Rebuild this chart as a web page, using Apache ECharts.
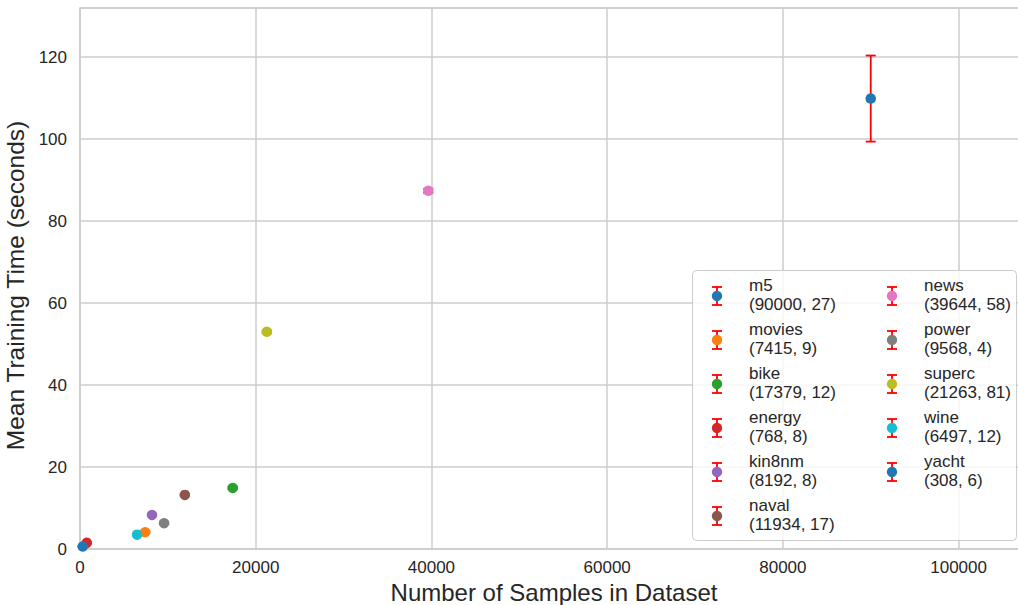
<!DOCTYPE html>
<html><head><meta charset="utf-8">
<script src="https://cdn.jsdelivr.net/npm/echarts@6/dist/echarts.min.js"></script>
<style>html,body{margin:0;padding:0;background:#fff}#c{width:1018px;height:605px;overflow:hidden}</style>
</head><body><div id="c"></div>
<script>
// ---- data ----
const names    = ['m5', 'movies', 'bike', 'energy', 'kin8nm', 'naval', 'news', 'power', 'superc', 'wine', 'yacht'];
const samples  = [90000, 7415, 17379, 768, 8192, 11934, 39644, 9568, 21263, 6497, 308];
const features = [27, 9, 12, 8, 8, 17, 58, 4, 81, 12, 6];
const meanTime = [109.9, 4.1, 14.9, 1.5, 8.3, 13.2, 87.4, 6.3, 53.0, 3.5, 0.6];
const errTime  = [10.5, 0.2, 0.3, 0.2, 0.2, 0.2, 0.5, 0.2, 0.3, 0.2, 0.1];
const xTicks   = [0, 20000, 40000, 60000, 80000, 100000];
const yTicks   = [0, 20, 40, 60, 80, 100, 120];
const colors   = ['#1f77b4', '#ff7f0e', '#2ca02c', '#d62728', '#9467bd', '#8c564b', '#e377c2', '#7f7f7f', '#bcbd22', '#17becf', '#1f77b4'];

const FONT = '"Liberation Sans", Arial, sans-serif';
const TXT = '#262626';
const chart = echarts.init(document.getElementById('c'), null, {renderer: 'svg'});

const errSeries = {
  type: 'custom',
  silent: true,
  z: 1,
  data: samples.map((s, i) => [s, meanTime[i] - errTime[i], meanTime[i] + errTime[i]]),
  renderItem(params, api) {
    const x = api.value(0);
    const pLo = api.coord([x, api.value(1)]);
    const pHi = api.coord([x, api.value(2)]);
    const hw = 5, st = {stroke: '#ff0000', lineWidth: 1.8};
    return {type: 'group', children: [
      {type: 'line', shape: {x1: pLo[0], y1: pLo[1], x2: pHi[0], y2: pHi[1]}, style: st},
      {type: 'line', shape: {x1: pLo[0] - hw, y1: pLo[1], x2: pLo[0] + hw, y2: pLo[1]}, style: st},
      {type: 'line', shape: {x1: pHi[0] - hw, y1: pHi[1], x2: pHi[0] + hw, y2: pHi[1]}, style: st}
    ]};
  }
};

const dotSeries = names.map((n, i) => ({
  name: n,
  type: 'scatter',
  z: 3,
  symbol: 'circle',
  symbolSize: 10.5,
  itemStyle: {color: colors[i], opacity: 1},
  data: [[samples[i], meanTime[i]]]
}));

// legend drawn as graphic from the arrays
const legendEls = [];
legendEls.push({type: 'rect', shape: {x: 692.5, y: 270.5, width: 324, height: 270, r: 4},
  style: {fill: 'rgba(255,255,255,0.8)', stroke: '#cccccc', lineWidth: 1}, z: 10});
names.forEach((n, i) => {
  const col = i < 6 ? 0 : 1, row = i < 6 ? i : i - 6;
  const cx = col === 0 ? 717 : 892;
  const cy = 296 + 44 * row;
  const st = {stroke: '#ff0000', lineWidth: 1.8};
  legendEls.push({type: 'line', z: 11, shape: {x1: cx, y1: cy - 9, x2: cx, y2: cy + 9}, style: st});
  legendEls.push({type: 'line', z: 11, shape: {x1: cx - 5, y1: cy - 9, x2: cx + 5, y2: cy - 9}, style: st});
  legendEls.push({type: 'line', z: 11, shape: {x1: cx - 5, y1: cy + 9, x2: cx + 5, y2: cy + 9}, style: st});
  legendEls.push({type: 'circle', z: 12, shape: {cx: cx, cy: cy, r: 5.2}, style: {fill: colors[i]}});
  legendEls.push({type: 'text', z: 12, x: cx + 32, y: cy - 1.5,
    style: {text: n + '\n(' + samples[i] + ', ' + features[i] + ')', font: '17px ' + FONT,
      fill: TXT, lineHeight: 19, verticalAlign: 'middle', align: 'left'}});
});

chart.setOption({
  animation: false,
  backgroundColor: '#ffffff',
  grid: {left: 80, right: -10, top: 8, bottom: 56, show: true, borderColor: '#cccccc', borderWidth: 1.5,
    containLabel: false, outerBoundsMode: 'none'},
  xAxis: {
    type: 'value', min: 0, max: 107900, interval: 20000,
    name: 'Number of Samples in Dataset', nameLocation: 'middle', nameGap: 26,
    nameTextStyle: {fontFamily: FONT, fontSize: 24, lineHeight: 22, color: TXT},
    axisLine: {show: false}, axisTick: {show: false},
    axisLabel: {fontFamily: FONT, fontSize: 17, color: TXT, margin: 10, showMaxLabel: false,
      formatter: v => xTicks.includes(v) ? String(v) : ''},
    splitLine: {show: true, lineStyle: {color: '#cccccc', width: 1.5}}
  },
  yAxis: {
    type: 'value', min: 0, max: 132, interval: 20,
    name: 'Mean Training Time (seconds)', nameLocation: 'middle', nameGap: 36,
    nameTextStyle: {fontFamily: FONT, fontSize: 24.5, color: TXT, padding: [0, 14, 0, 0]},
    axisLine: {show: false}, axisTick: {show: false},
    axisLabel: {fontFamily: FONT, fontSize: 17, color: TXT, margin: 13, showMaxLabel: false,
      formatter: v => yTicks.includes(v) ? String(v) : ''},
    splitLine: {show: true, lineStyle: {color: '#cccccc', width: 1.5}}
  },
  series: [errSeries].concat(dotSeries),
  graphic: legendEls
});
</script>
</body></html>
